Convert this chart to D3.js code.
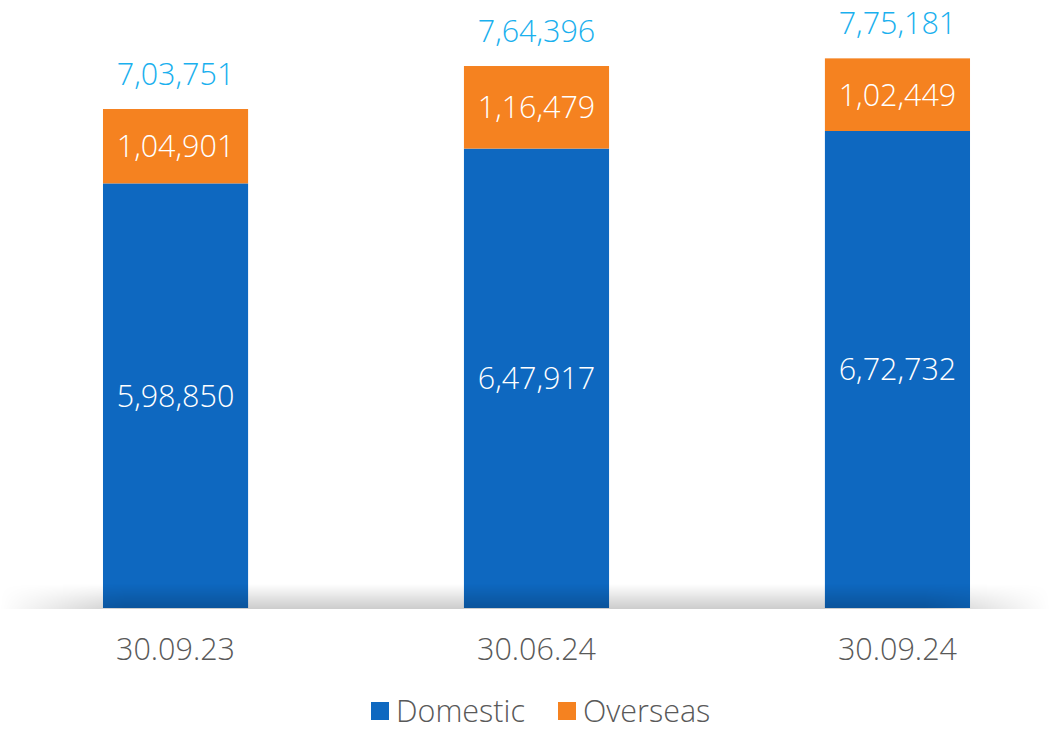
<!DOCTYPE html>
<html><head><meta charset="utf-8">
<script src="https://cdn.jsdelivr.net/npm/d3@7"></script>
<style>body{margin:0;background:#fff;}svg{display:block;}</style>
</head><body>
<svg id="c" width="1050" height="731"></svg>
<script>
const categories = ["30.09.23", "30.06.24", "30.09.24"];
const domestic = [598850, 647917, 672732];
const overseas = [104901, 116479, 102449];
const totals = [703751, 764396, 775181];
const seriesNames = ["Domestic", "Overseas"];
const colors = ["#0e68c0", "#f58220"];

const fmt = v => v.toLocaleString("en-IN");
const svg = d3.select("#c");
const font = "'Open Sans', 'DejaVu Sans', sans-serif";
const fs = 30.5;

const x = d3.scaleBand().domain(categories).range([0, 1073]).paddingInner(0.598).paddingOuter(0.2853);
const y = d3.scaleLinear().domain([0, 857500]).range([608, 0]);

const rows = categories.map((c, i) => ({cat: c, Domestic: domestic[i], Overseas: overseas[i], total: totals[i]}));
const stack = d3.stack().keys(seriesNames)(rows);

const defs = svg.append("defs");
const vg = defs.append("linearGradient").attr("id", "vg").attr("x1", 0).attr("x2", 0).attr("y1", 0).attr("y2", 1);
vg.append("stop").attr("offset", "0%").attr("stop-color", "#000").attr("stop-opacity", 0);
vg.append("stop").attr("offset", "100%").attr("stop-color", "#000").attr("stop-opacity", 0.2);
const hg = defs.append("linearGradient").attr("id", "hg").attr("x1", 0).attr("x2", 1).attr("y1", 0).attr("y2", 0);
hg.append("stop").attr("offset", "0%").attr("stop-color", "#fff").attr("stop-opacity", 0);
hg.append("stop").attr("offset", "12%").attr("stop-color", "#fff").attr("stop-opacity", 1);
hg.append("stop").attr("offset", "88%").attr("stop-color", "#fff").attr("stop-opacity", 1);
hg.append("stop").attr("offset", "100%").attr("stop-color", "#fff").attr("stop-opacity", 0);
const mask = defs.append("mask").attr("id", "hm");
mask.append("rect").attr("x", 0).attr("y", 560).attr("width", 1050).attr("height", 60).attr("fill", "url(#hg)");

svg.selectAll("g.series").data(stack).join("g").attr("class", "series")
  .attr("fill", (d, i) => colors[i])
  .selectAll("rect").data(d => d).join("rect")
  .attr("x", d => x(d.data.cat))
  .attr("width", x.bandwidth())
  .attr("y", d => y(d[1]))
  .attr("height", d => y(d[0]) - y(d[1]));

// floor shadow
svg.append("rect").attr("x", 0).attr("y", 584).attr("width", 1050).attr("height", 25)
  .attr("fill", "url(#vg)").attr("mask", "url(#hm)");

// segment labels
stack.forEach(s => {
  svg.append("g").selectAll("text").data(s).join("text")
    .attr("x", d => x(d.data.cat) + x.bandwidth() / 2)
    .attr("y", d => (y(d[0]) + y(d[1])) / 2)
    .attr("dy", "0.36em")
    .attr("text-anchor", "middle")
    .attr("fill", "#fff")
    .attr("font-family", font).attr("font-weight", 300).attr("font-size", fs)
    .text(d => fmt(d.data[s.key]));
});

// totals
svg.append("g").selectAll("text").data(rows).join("text")
  .attr("x", d => x(d.cat) + x.bandwidth() / 2)
  .attr("y", d => y(d.total) - 24)
  .attr("text-anchor", "middle")
  .attr("fill", "#1ab0ee")
  .attr("font-family", font).attr("font-weight", 300).attr("font-size", fs)
  .text(d => fmt(d.total));

// x axis
const xa = svg.append("g").attr("transform", "translate(0,608)")
  .call(d3.axisBottom(x).tickSize(0).tickPadding(30));
xa.select(".domain").remove();
xa.selectAll("text").attr("fill", "#595959").attr("font-family", font).attr("font-weight", 300).attr("font-size", fs);

// legend
const legX = [371, 558];
const lg = svg.append("g");
seriesNames.forEach((n, i) => {
  lg.append("rect").attr("x", legX[i]).attr("y", 702).attr("width", 18).attr("height", 18).attr("fill", colors[i]);
  lg.append("text").attr("x", legX[i] + 25).attr("y", 711).attr("dy", "0.36em")
    .attr("fill", "#595959").attr("font-family", font).attr("font-weight", 300).attr("font-size", fs).text(n);
});
</script>
</body></html>
